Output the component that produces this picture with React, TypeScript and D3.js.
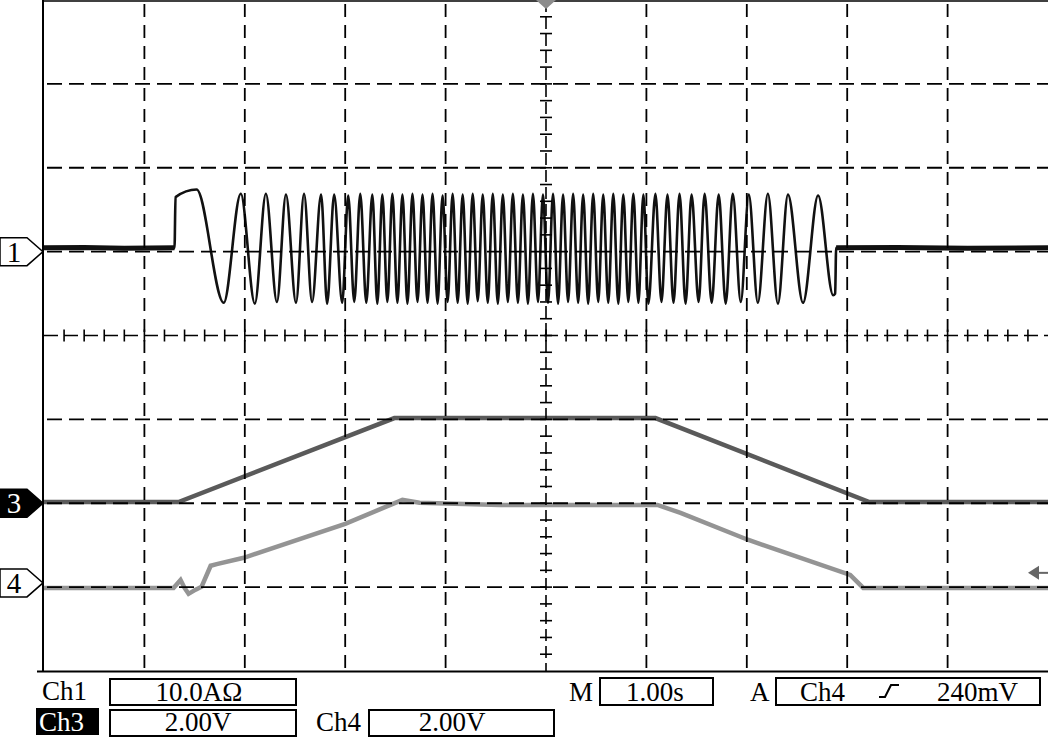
import React from "react";
import * as d3 from "d3";

const W = 1050;
const H = 737;

// time in ms, 1.00 s/div, trigger at 0
const timeDomain: [number, number] = [-5000, 5000];
const divDomain: [number, number] = [-4, 4];

// Ch1 current (A), 10.0 A/div, ground +1 div
const ch1Time = [
  -5000, -4600, -4200, -3700, -3690, -3480,
  -3210, -3040, -2900, -2790, -2680, -2590, -2490, -2410, -2330, -2240,
  -2180, -2110, -2030, -1970, -1910, -1850, -1790, -1730, -1680, -1630,
  -1580, -1530, -1480, -1430, -1380, -1330, -1280, -1230, -1180, -1130,
  -1080, -1030, -980, -930, -880, -830, -780, -730, -680, -630,
  -580, -530, -480, -430, -380, -330, -280, -230, -180, -130,
  -80, -30, 20, 70, 120, 170, 220, 270, 320, 370,
  420, 470, 520, 570, 620, 670, 720, 770, 820, 870,
  920, 970, 1020, 1090, 1150, 1210, 1270, 1330, 1390, 1450,
  1520, 1580, 1650, 1720, 1790, 1860, 1940, 2020, 2110, 2210,
  2310, 2410, 2560, 2710, 2860, 2880, 2890, 3500, 4200, 5000,
];
const ch1Amp = [
  0.45, 0.5, 0.4, 0.45, 6.5, 7.4,
  -6.1, 6.9, -6.2, 6.9, -6.0, 6.8, -6.1, 6.9, -6.0, 6.8,
  -6.2, 6.8, -6.1, 6.7, -6.0, 6.9, -6.1, 6.8, -6.2, 6.8,
  -6.0, 6.9, -6.1, 6.8, -6.2, 6.9, -6.0, 6.8, -6.1, 6.9,
  -6.2, 6.7, -6.0, 6.9, -6.1, 6.8, -6.2, 6.9, -5.9, 6.8,
  -6.1, 6.9, -6.2, 6.8, -6.0, 6.9, -6.1, 6.8, -6.2, 6.9,
  -6.0, 6.8, -6.1, 6.9, -6.2, 6.8, -6.0, 6.9, -6.1, 6.8,
  -6.2, 6.9, -6.0, 6.8, -6.1, 6.9, -6.2, 6.8, -6.0, 6.9,
  -6.1, 6.8, -6.2, 6.9, -6.0, 6.8, -6.1, 6.9, -6.2, 6.8,
  -6.0, 6.9, -6.1, 6.8, -6.2, 6.9, -6.0, 6.8, -6.1, 6.9,
  -6.2, 6.8, -6.1, 6.7, -5.2, -5.0, 0.45, 0.5, 0.4, 0.45,
];

// Ch3 voltage (V), 2.00 V/div, ground -2 div
const ch3Time = [-5000, -4300, -3660, -1510, -800, 200, 1090, 3220, 4000, 5000];
const ch3Volt = [0.03, 0.03, 0.03, 2.03, 2.03, 2.03, 2.03, 0.03, 0.03, 0.03];

// Ch4 voltage (V), 2.00 V/div, ground -2.95 div
const ch4Time = [
  -5000, -3710, -3640, -3600, -3560, -3490, -3430, -3340, -3280, -3010,
  -2000, -1430, -1260, -460, 1110, 1340, 2010, 3030, 3160, 5000,
];
const ch4Volt = [
  -0.12, -0.12, 0.07, -0.12, -0.26, -0.16, -0.09, 0.41, 0.45, 0.6,
  1.41, 1.98, 1.91, 1.86, 1.86, 1.67, 1.03, 0.19, -0.12, -0.12,
];

const ch1Scale = 10;
const ch1Offset = 1;
const ch3Scale = 2;
const ch3Offset = -2;
const ch4Scale = 2;
const ch4Offset = -2.95;
const triggerLevel = 0.24; // V on Ch4

const ch1Label = "10.0AΩ";
const ch3Label = "2.00V";
const ch4Label = "2.00V";
const timebaseLabel = "1.00s";
const triggerLabel = "240mV";

const FONT = "'Liberation Serif', 'Times New Roman', serif";

export default function App() {
  const x = d3.scaleLinear().domain(timeDomain).range([44, 1048]);
  const y = d3.scaleLinear().domain(divDomain).range([671, 0]);
  const chY = (v: number, s: number, o: number) => y(o + v / s);

  const ch1Data: [number, number][] = ch1Time.map((t, i) => [t, ch1Amp[i]]);
  const ch3Data: [number, number][] = ch3Time.map((t, i) => [t, ch3Volt[i]]);
  const ch4Data: [number, number][] = ch4Time.map((t, i) => [t, ch4Volt[i]]);

  const line1 = d3
    .line<[number, number]>()
    .x((d) => x(d[0]))
    .y((d) => chY(d[1], ch1Scale, ch1Offset))
    .curve(d3.curveMonotoneX);
  const line3 = d3
    .line<[number, number]>()
    .x((d) => x(d[0]))
    .y((d) => chY(d[1], ch3Scale, ch3Offset));
  const line4 = d3
    .line<[number, number]>()
    .x((d) => x(d[0]))
    .y((d) => chY(d[1], ch4Scale, ch4Offset));

  // idle (flat) runs of Ch1 drawn thicker, like the noisy baseline
  const idleRuns: [number, number][][] = [];
  let run: [number, number][] = [];
  ch1Data.forEach((d) => {
    if (Math.abs(d[1]) < 1) run.push(d);
    else {
      if (run.length > 1) idleRuns.push(run);
      run = [];
    }
  });
  if (run.length > 1) idleRuns.push(run);
  const lineIdle = d3
    .line<[number, number]>()
    .x((d) => x(d[0]))
    .y((d) => chY(d[1], ch1Scale, ch1Offset));

  const vTicks = d3.range(-4000, 4001, 1000).filter((t) => t !== 0);
  const hTicks = d3.range(-3, 4).filter((k) => k !== 0);
  const minorX = d3.range(-4800, 4801, 200);
  const minorY = d3.range(-3.8, 3.81, 0.2);

  const g1 = y(ch1Offset);
  const g3 = y(ch3Offset);
  const g4 = y(ch4Offset);
  const trigY = chY(triggerLevel, ch4Scale, ch4Offset);
  const cx = x(0);
  const cy = y(0);

  const marker = (gy: number) =>
    `M0,${gy - 14} L27,${gy - 14} L43,${gy} L27,${gy + 14} L0,${gy + 14} Z`;

  return (
    <svg
      width={W}
      height={H}
      style={{ position: "absolute", left: 0, top: 0, background: "#fff" }}
      fontFamily={FONT}
    >
      <rect x={0} y={0} width={W} height={H} fill="#fff" />
      {/* traces */}
      <path d={line4(ch4Data) || ""} fill="none" stroke="#949494" strokeWidth={4.5} />
      <path d={line3(ch3Data) || ""} fill="none" stroke="#5a5a5a" strokeWidth={4.5} />
      {idleRuns.map((r, i) => (
        <path key={i} d={lineIdle(r) || ""} fill="none" stroke="#111" strokeWidth={5} />
      ))}
      <path d={line1(ch1Data) || ""} fill="none" stroke="#111" strokeWidth={2.6} />

      {/* grid */}
      {vTicks.map((t) => (
        <line key={"v" + t} x1={x(t)} x2={x(t)} y1={0} y2={671} stroke="#000" strokeWidth={1.8} strokeDasharray="13 8" strokeDashoffset={-4} />
      ))}
      {hTicks.map((k) => (
        <line key={"h" + k} x1={44} x2={1048} y1={y(k)} y2={y(k)} stroke="#000" strokeWidth={1.8} strokeDasharray="15 7" strokeDashoffset={-3} />
      ))}
      <line x1={44} x2={1048} y1={cy} y2={cy} stroke="#000" strokeWidth={1.6} strokeDasharray="14 6" />
      <line x1={cx} x2={cx} y1={0} y2={671} stroke="#000" strokeWidth={1.6} strokeDasharray="12 5" />
      {minorX.map((t) => (
        <line key={"mx" + t} x1={x(t)} x2={x(t)} y1={cy - 6} y2={cy + 6} stroke="#000" strokeWidth={1.6} />
      ))}
      {minorY.map((k) => (
        <line key={"my" + k.toFixed(1)} x1={cx - 6} x2={cx + 6} y1={y(k)} y2={y(k)} stroke="#000" strokeWidth={1.6} />
      ))}
      {/* frame */}
      <line x1={43} x2={43} y1={0} y2={672} stroke="#000" strokeWidth={2} />
      <line x1={43} x2={1048} y1={1} y2={1} stroke="#000" strokeWidth={1.5} />
      <line x1={37} x2={1048} y1={671.5} y2={671.5} stroke="#000" strokeWidth={2} />

      {/* trigger position marker */}
      <path d={`M${cx - 10},0 L${cx + 10},0 L${cx},9 Z`} fill="#8c8c8c" />
      {/* trigger level arrow */}
      <path d={`M1028,${trigY} L1039,${trigY - 7} L1039,${trigY + 7} Z`} fill="#666" />
      <line x1={1036} x2={1048} y1={trigY} y2={trigY} stroke="#666" strokeWidth={2} />

      {/* channel markers */}
      <path d={marker(g1)} fill="#fff" stroke="#000" strokeWidth={1.5} />
      <text x={14} y={g1 + 10} fontSize={29} textAnchor="middle" fill="#000">1</text>
      <path d={marker(g3)} fill="#000" stroke="#000" strokeWidth={1.5} />
      <text x={14} y={g3 + 10} fontSize={29} textAnchor="middle" fill="#fff">3</text>
      <path d={marker(g4)} fill="#fff" stroke="#000" strokeWidth={1.5} />
      <text x={14} y={g4 + 10} fontSize={29} textAnchor="middle" fill="#000">4</text>

      {/* footer */}
      <g fontSize={27} fill="#000">
        <text x={42} y={700}>Ch1</text>
        <rect x={110} y={679} width={186} height={26} fill="none" stroke="#000" strokeWidth={2} />
        <text x={199} y={701} textAnchor="middle">{ch1Label}</text>

        <rect x={36} y={708} width={63} height={27} fill="#000" />
        <text x={39} y={731} fill="#fff">Ch3</text>
        <rect x={110} y={710} width={186} height={26} fill="none" stroke="#000" strokeWidth={2} />
        <text x={198} y={731} textAnchor="middle">{ch3Label}</text>

        <text x={316} y={731}>Ch4</text>
        <rect x={369} y={710} width={185} height={26} fill="none" stroke="#000" strokeWidth={2} />
        <text x={452} y={731} textAnchor="middle">{ch4Label}</text>

        <text x={569} y={701}>M</text>
        <rect x={600} y={678} width={113} height={27} fill="none" stroke="#000" strokeWidth={2} />
        <text x={655} y={701} textAnchor="middle">{timebaseLabel}</text>

        <text x={750} y={701}>A</text>
        <rect x={776} y={678} width={264} height={27} fill="none" stroke="#000" strokeWidth={2} />
        <text x={800} y={701}>Ch4</text>
        <path d="M879,697 L885,697 L891,685 L899,685" fill="none" stroke="#000" strokeWidth={2} />
        <text x={937} y={701}>{triggerLabel}</text>
      </g>
    </svg>
  );
}
